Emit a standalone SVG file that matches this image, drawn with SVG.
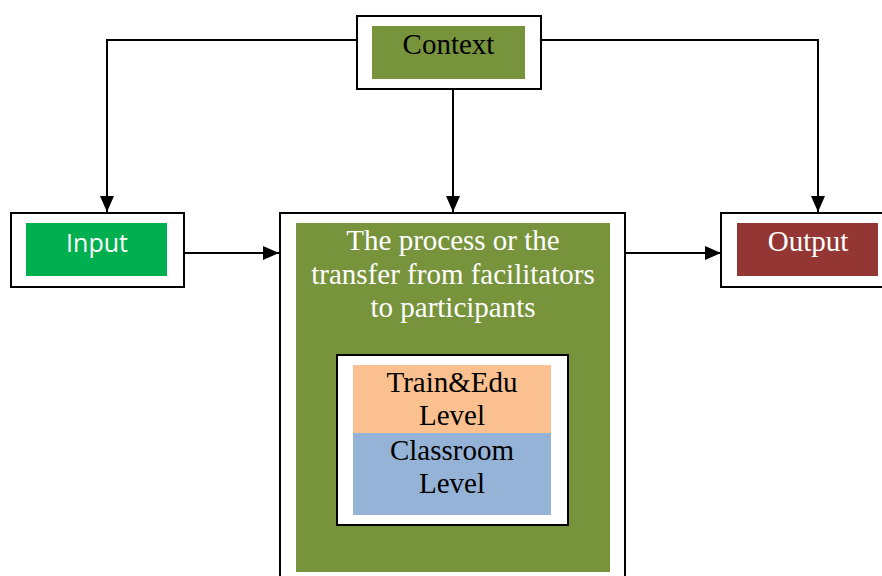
<svg xmlns="http://www.w3.org/2000/svg" width="882" height="576" viewBox="0 0 882 576">
<defs>
<style>
.frame{fill:#fff;stroke:#000;stroke-width:2}
.serif{font-family:"Liberation Serif","Times New Roman",serif;font-size:29px;text-anchor:middle}
.sans{font-family:"Open Sans","Liberation Sans",sans-serif;font-size:25px;text-anchor:middle}
.conn{fill:none;stroke:#000;stroke-width:2}
</style>
<marker id="arr" viewBox="0 0 16 14" refX="16" refY="7" markerWidth="16" markerHeight="14" markerUnits="userSpaceOnUse" orient="auto">
<path d="M0,0 L16,7 L0,14 Z" fill="#000"/>
</marker>
</defs>
<rect width="882" height="576" fill="#fff"/>
<g id="connectors">
<path class="conn" d="M357,40 H107 V212" marker-end="url(#arr)"/>
<path class="conn" d="M541,40 H818 V212" marker-end="url(#arr)"/>
<path class="conn" d="M453,89 V212" marker-end="url(#arr)"/>
<path class="conn" d="M184,253 H279" marker-end="url(#arr)"/>
<path class="conn" d="M625,253 H721" marker-end="url(#arr)"/>
</g>
<g id="context">
<rect class="frame" x="357" y="16" width="184" height="73"/>
<rect x="372" y="26" width="153" height="53" fill="#77933C"/>
<text class="serif" x="448.5" y="54" fill="#000">Context</text>
</g>
<g id="input">
<rect class="frame" x="11" y="213" width="173" height="74"/>
<rect x="26" y="223" width="141" height="53" fill="#00B050"/>
<text class="sans" x="97" y="252" fill="#fff">Input</text>
</g>
<g id="output">
<rect class="frame" x="721" y="213" width="170" height="74"/>
<rect x="737" y="223" width="141" height="53" fill="#943634"/>
<text class="serif" x="808" y="251" fill="#fff">Output</text>
</g>
<g id="process">
<rect class="frame" x="280" y="213" width="345" height="380"/>
<rect x="296" y="223" width="314" height="349" fill="#77933C"/>
<text class="serif" x="453" y="250" fill="#fff">The process or the</text>
<text class="serif" x="453" y="284" fill="#fff">transfer from facilitators</text>
<text class="serif" x="453" y="317" fill="#fff">to participants</text>
</g>
<g id="levels">
<rect class="frame" x="337" y="355" width="231" height="170"/>
<rect x="353" y="365" width="198" height="68" fill="#FAC090"/>
<rect x="353" y="433" width="198" height="82" fill="#95B3D7"/>
<text class="serif" x="452" y="392" fill="#000">Train&amp;Edu</text>
<text class="serif" x="452" y="425" fill="#000">Level</text>
<text class="serif" x="452" y="460" fill="#000">Classroom</text>
<text class="serif" x="452" y="493" fill="#000">Level</text>
</g>
</svg>
